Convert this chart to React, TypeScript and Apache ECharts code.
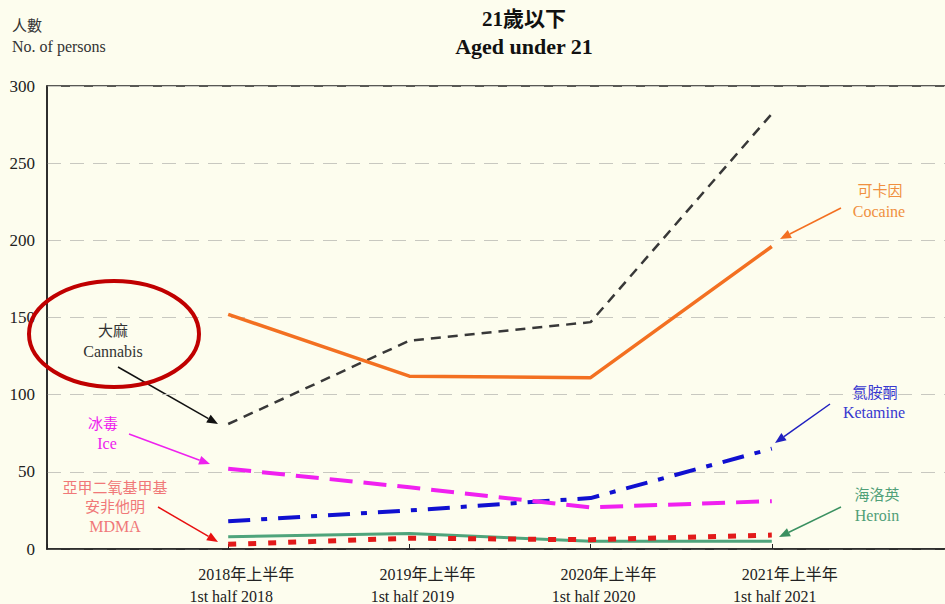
import React, { useEffect, useRef } from "react";
import * as echarts from "echarts";

const cnLabels = ["2018年上半年", "2019年上半年", "2020年上半年", "2021年上半年"];
const enLabels = ["1st half 2018", "1st half 2019", "1st half 2020", "1st half 2021"];
const categories = ["", ...cnLabels, ""];

const cannabis = [81, 135, 147, 282];
const cocaine = [152, 112, 111, 196];
const ketamine = [18, 25, 33, 65];
const ice = [52, 40, 27, 31];
const heroin = [8, 10, 5, 5];
const mdma = [3, 7, 6, 9];

const SERIF = '"Liberation Serif", "Times New Roman", "Noto Sans CJK TC", serif';
const ANN = '"Liberation Serif", "Noto Sans CJK TC", serif';

function pad(arr: number[]) {
  return ["-", ...arr, "-"];
}

function arrow(x1: number, y1: number, x2: number, y2: number, color: string, w = 1.5) {
  const ang = Math.atan2(y2 - y1, x2 - x1);
  const L = 11;
  const W = 4.5;
  const c = Math.cos(ang);
  const s = Math.sin(ang);
  const bx = x2 - L * c;
  const by = y2 - L * s;
  const px = -s;
  const py = c;
  return [
    { type: "line", shape: { x1, y1, x2: bx, y2: by }, style: { stroke: color, lineWidth: w } },
    {
      type: "polygon",
      shape: { points: [[x2, y2], [bx + W * px, by + W * py], [bx - W * px, by - W * py]] },
      style: { fill: color },
    },
  ];
}

function label(text: string, x: number, y: number, fill: string, size = 16, bold = false) {
  return {
    type: "text",
    x,
    y,
    style: {
      text,
      fill,
      font: `${bold ? "bold " : ""}${size}px ${ANN}`,
      textAlign: "center",
      textVerticalAlign: "middle",
      align: "center",
      verticalAlign: "middle",
    },
  };
}

export default function App() {
  const ref = useRef<HTMLDivElement>(null);
  useEffect(() => {
    document.body.style.margin = "0";
    const chart = echarts.init(ref.current!, null, { renderer: "svg" });
    const mk = (name: string, data: number[], color: string, width: number, type: any) => ({
      name,
      type: "line",
      data: pad(data),
      showSymbol: false,
      symbol: "none",
      lineStyle: { color, width, type, cap: "butt" },
      itemStyle: { color },
    });
    const option: any = {
      animation: false,
      backgroundColor: "#FDFDEE",
      grid: {
        left: 47,
        right: -8,
        top: 86,
        bottom: 55,
        show: true,
        borderColor: "#222",
        borderWidth: 1.5,
        backgroundColor: "transparent",
        containLabel: false,
        outerBoundsMode: "none",
      },
      xAxis: {
        type: "category",
        data: categories,
        boundaryGap: false,
        axisLine: { lineStyle: { color: "#222", width: 1.5 } },
        axisTick: { inside: true, length: 5, lineStyle: { color: "#222" } },
        splitLine: { show: false },
        axisLabel: {
          interval: 0,
          margin: 14,
          hideOverlap: false,
          formatter: (_v: string, i: number) =>
            i >= 1 && i <= 4 ? `{a|${cnLabels[i - 1]}}\n{b|${enLabels[i - 1]}}` : "",
          rich: {
            a: {
              fontFamily: SERIF,
              fontSize: 16,
              color: "#222",
              lineHeight: 22,
              padding: [0, 0, 0, 36],
            },
            b: {
              fontFamily: SERIF,
              fontSize: 16,
              color: "#222",
              lineHeight: 22,
              padding: [0, 0, 0, 6],
            },
          },
        },
      },
      yAxis: {
        type: "value",
        min: 0,
        max: 300,
        interval: 50,
        axisLine: { show: true, lineStyle: { color: "#222", width: 1.5 } },
        axisTick: { show: false },
        axisLabel: { fontFamily: SERIF, fontSize: 17, color: "#222", margin: 12 },
        splitLine: { lineStyle: { color: "#C8C8C0", type: [14, 9], width: 1.2 } },
      },
      series: [
        mk("大麻 Cannabis", cannabis, "#383838", 2.5, [10, 7]),
        mk("可卡因 Cocaine", cocaine, "#F37021", 3.5, "solid"),
        mk("氯胺酮 Ketamine", ketamine, "#1010D0", 4, [22, 11, 6, 11]),
        mk("冰毒 Ice", ice, "#F020F0", 4, [23, 11]),
        mk("海洛英 Heroin", heroin, "#4FA47B", 3, "solid"),
        mk("亞甲二氧基甲基安非他明 MDMA", mdma, "#E21A1A", 5, [8, 12]),
      ],
      graphic: [
        label("21歲以下", 524, 19, "#111", 21, true),
        label("Aged under 21", 524, 46, "#111", 22, true),
        {
          type: "text",
          x: 12,
          y: 26,
          style: { text: "人數", fill: "#333", font: `15px ${ANN}`, textVerticalAlign: "middle", verticalAlign: "middle" },
        },
        {
          type: "text",
          x: 12,
          y: 46,
          style: { text: "No. of persons", fill: "#333", font: `16px ${ANN}`, textVerticalAlign: "middle", verticalAlign: "middle" },
        },
        {
          type: "ellipse",
          shape: { cx: 114, cy: 334, rx: 85, ry: 53 },
          style: { fill: "none", stroke: "#C00000", lineWidth: 4 },
          z: 100,
        },
        label("大麻", 113, 331, "#333", 15),
        label("Cannabis", 113, 351, "#333", 16),
        ...arrow(118, 367, 218, 424, "#111"),
        label("冰毒", 103, 424, "#EE22EE", 15),
        label("Ice", 107, 443, "#EE22EE", 16),
        ...arrow(129, 434, 210, 464, "#EE22EE"),
        label("亞甲二氧基甲基", 115, 488, "#F07878", 15),
        label("安非他明", 115, 507, "#F07878", 15),
        label("MDMA", 115, 526, "#F07878", 16),
        ...arrow(158, 507, 218, 542, "#E81010"),
        label("可卡因", 880, 191, "#F09040", 15),
        label("Cocaine", 879, 211, "#F09040", 16),
        ...arrow(841, 208, 780, 239, "#F37021"),
        label("氯胺酮", 875, 393, "#3838D0", 15),
        label("Ketamine", 874, 412, "#3838D0", 16),
        ...arrow(830, 404, 775, 443, "#2020C0"),
        label("海洛英", 877, 495, "#50A078", 15),
        label("Heroin", 877, 515, "#50A078", 16),
        ...arrow(841, 507, 779, 537, "#3A9060"),
      ],
    };
    chart.setOption(option);
    return () => chart.dispose();
  }, []);
  return (
    <div
      ref={ref}
      style={{ position: "absolute", left: 0, top: 0, width: 945, height: 604 }}
    />
  );
}
